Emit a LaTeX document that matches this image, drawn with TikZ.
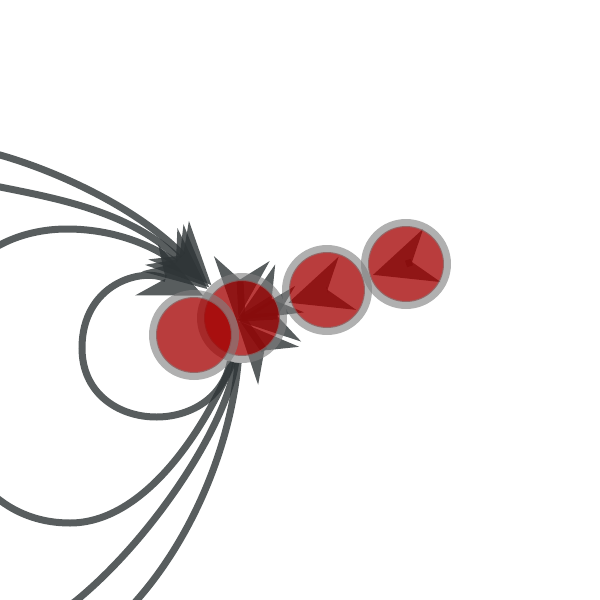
\documentclass[tikz,border=0pt]{standalone}
\usetikzlibrary{arrows.meta,backgrounds}
\definecolor{edgecol}{rgb}{0.179,0.203,0.210}
\definecolor{vfill}{rgb}{0.640625,0,0}
\definecolor{vring}{rgb}{0.5,0.5,0.5}
\tikzset{
  vertex/.style={circle, minimum size=1.64cm, inner sep=0pt, line width=0.16cm,
    draw=vring, draw opacity=0.62,
    path picture={\fill[vfill, fill opacity=0.76] (path picture bounding box.center) circle (0.76cm);}},
  edge/.style={draw=edgecol, line width=0.14cm, opacity=0.8,
    -{Stealth[length=1.24cm, width=1.12cm, inset=0.42cm, line width=0pt]}}
}
\begin{document}
\begin{tikzpicture}[x=0.02cm, y=-0.02cm]
\useasboundingbox (0,0) rectangle (600,600);
% vertices (B first, the others over it)
\node[vertex] (B) at (242,318) {};
\node[vertex] (A) at (194,335) {};
\node[vertex] (C) at (327,290) {};
\node[vertex] (D) at (406,264) {};
\begin{scope}[on background layer]
% self-loops of B
\draw[edge] (B.255) .. controls (215,440) and (82,435) .. (82,348)
   .. controls (82,285) and (140,267) .. (B.150);
\draw[edge] (B.258) .. controls (200,440) and (140,523) .. (70,523)
   .. controls (-40,523) and (-80,390) .. (-50,300)
   .. controls (-30,250) and (20,229) .. (67,229)
   .. controls (120,229) and (160,250) .. (B.140);
\draw[edge] (B.262) .. controls (225,430) and (150,540) .. (77,600)
   .. controls (20,647) and (-200,650) .. (-200,400)
   .. controls (-200,230) and (-60,175) .. (0,187)
   .. controls (60,199) and (130,212) .. (B.137);
\draw[edge] (B.265) .. controls (230,450) and (190,540) .. (137,600)
   .. controls (100,650) and (-300,700) .. (-300,400)
   .. controls (-300,200) and (-60,138) .. (0,155)
   .. controls (60,172) and (140,210) .. (B.133);
% edges between vertices
\draw[edge, shorten >=0.07cm] (D.center) -- (C);
\draw[edge, shorten >=0.08cm] (C.center) -- (B);
\draw[edge] (B.center) .. controls (272,299) .. (A.19);
\draw[edge] (B.center) .. controls (277,316) .. (A.19);
\draw[edge] (B.center) .. controls (240,280) .. (A.19);
\draw[edge] (B.center) .. controls (264,350) .. (A.19);
\end{scope}
\end{tikzpicture}
\end{document}
